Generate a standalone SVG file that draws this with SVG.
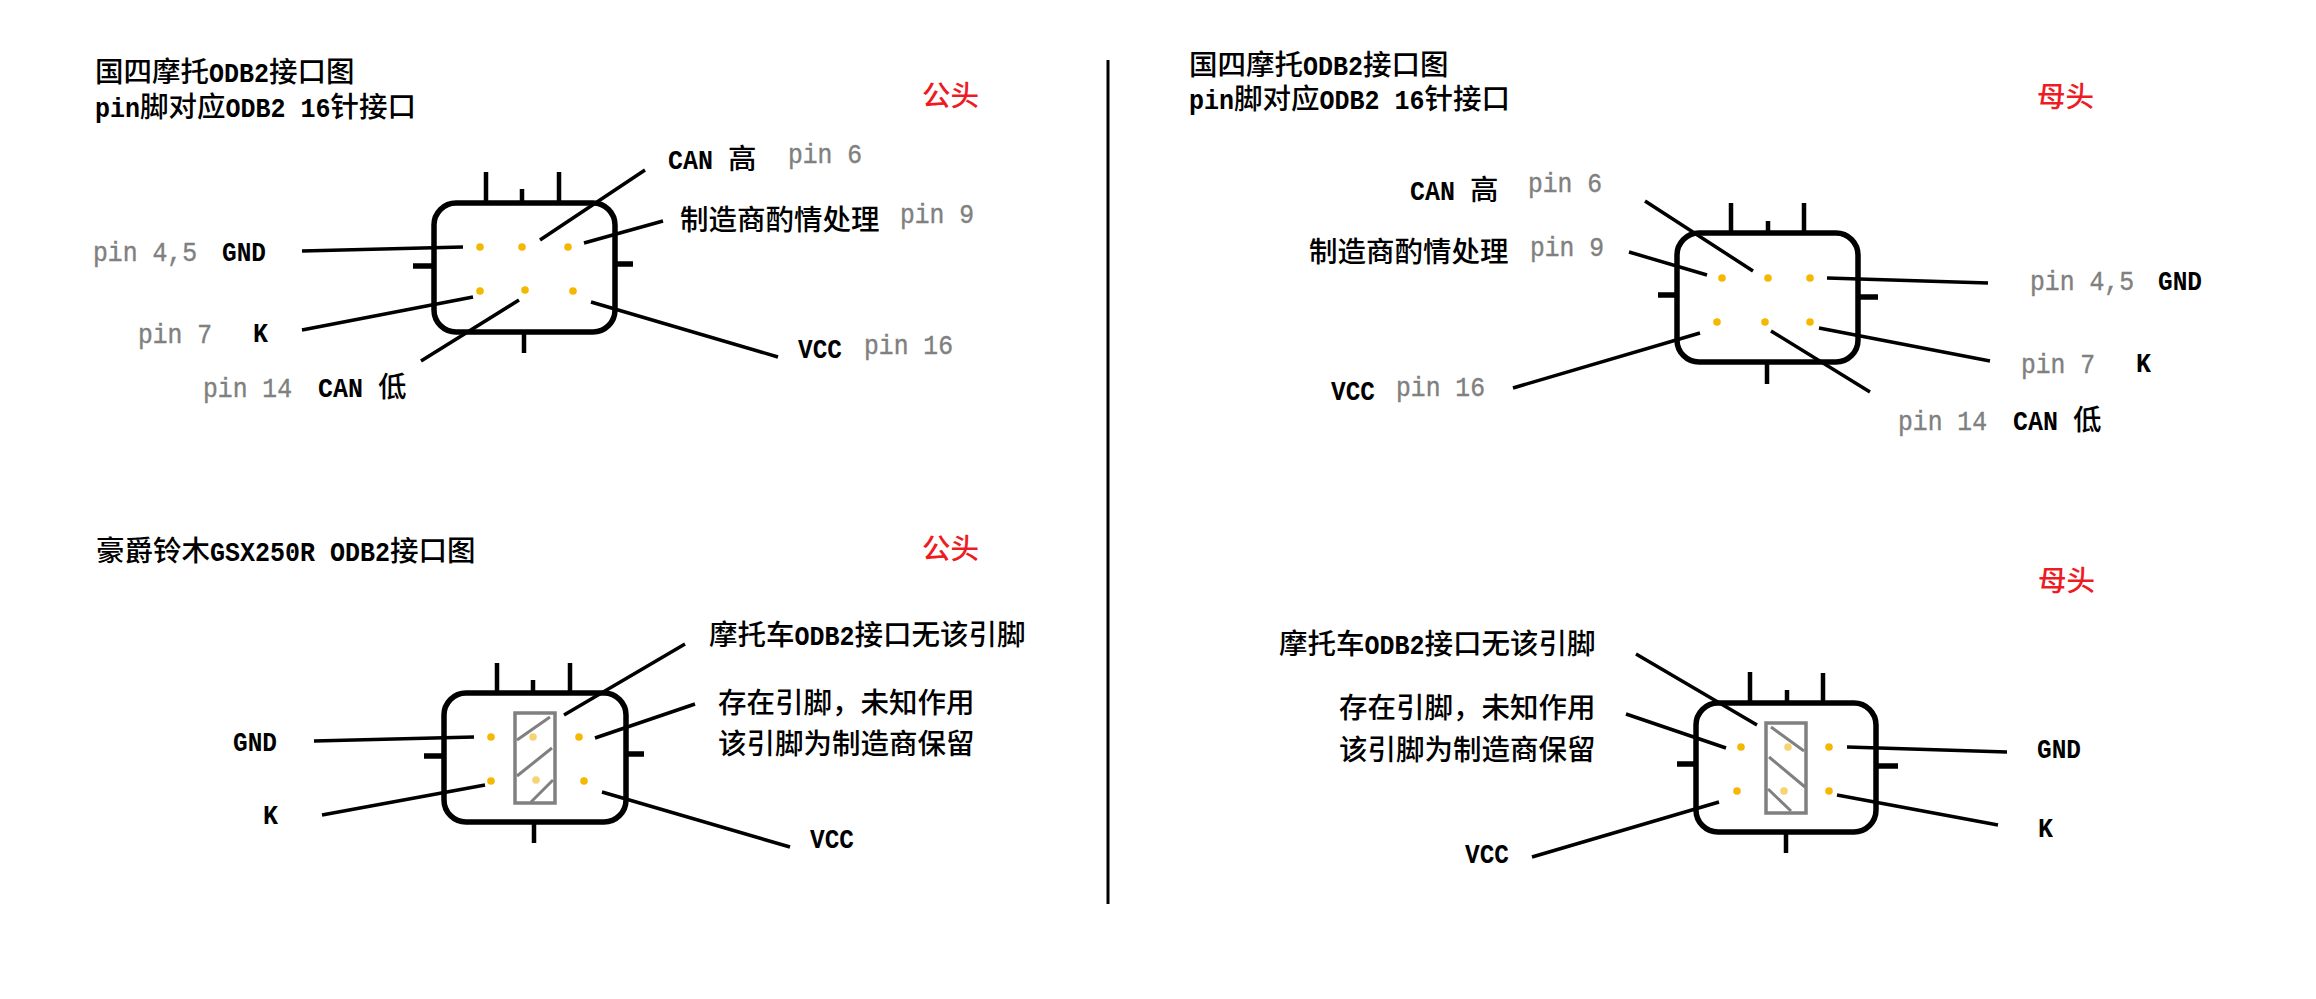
<svg xmlns="http://www.w3.org/2000/svg" width="2316" height="999" viewBox="0 0 2316 999">
<style>
text{font-family:"Noto Sans CJK SC","Liberation Sans",sans-serif;font-size:28.5px;fill:#000;font-weight:500}
.m{font-family:"Liberation Mono","Noto Sans CJK SC",monospace;font-size:27px;font-weight:700}
.p{font-family:"Liberation Mono",monospace;font-size:27px;fill:#808080;font-weight:400;stroke:#808080;stroke-width:.4}
.r{fill:#ed1c24}
.body{fill:#fff;stroke:#000;stroke-width:5.5}
.stub{stroke:#000;stroke-width:5.5;fill:none}
.thin{stroke:#000;stroke-width:4.5;fill:none}
.lead{stroke:#000;stroke-width:3.5;fill:none}
.d{fill:#f5b800}
.pale{fill:#f6d472}
.block{fill:none;stroke:#808080;stroke-width:3.5}
.hatch{fill:none;stroke:#808080;stroke-width:3}
</style>
<rect width="2316" height="999" fill="#fff"/>
<line x1="1108" y1="60" x2="1108" y2="904" stroke="#000" stroke-width="3"/>

<g id="conn-male-top">
<path class="thin" d="M486 172V203M522 189V203M559 172V203M524 332V353"/>
<path class="stub" d="M413 266H434M615 264H633"/>
<rect class="body" x="434" y="203" width="181" height="129" rx="22"/>
<circle class="d" cx="480" cy="247" r="3.8"/><circle class="d" cx="522" cy="247" r="3.8"/><circle class="d" cx="568" cy="247" r="3.8"/>
<circle class="d" cx="480" cy="291" r="3.8"/><circle class="d" cx="525" cy="290" r="3.8"/><circle class="d" cx="573" cy="291" r="3.8"/>
</g>
<g id="conn-male-bottom">
<path class="thin" d="M497 663V693M533 680V693M570 663V693M534 822V843"/>
<path class="stub" d="M424 756H444M626 754H644"/>
<rect class="body" x="444" y="693" width="182" height="129" rx="22"/>
<circle class="d" cx="491" cy="737" r="3.8"/><circle class="pale" cx="533" cy="737" r="3.8"/><circle class="d" cx="579" cy="737" r="3.8"/>
<circle class="d" cx="491" cy="781" r="3.8"/><circle class="pale" cx="536" cy="780" r="3.8"/><circle class="d" cx="584" cy="781" r="3.8"/>
<rect class="block" x="515" y="713" width="40" height="90"/>
<path class="hatch" d="M550 717L517 740M552 748L517 776M553 780L531 802"/>
</g>
<g id="conn-female-top">
<path class="thin" d="M1731 203V233M1768 221V233M1804 203V233M1767 362V384"/>
<path class="stub" d="M1658 295H1677M1858 297H1878"/>
<rect class="body" x="1677" y="233" width="181" height="129" rx="22"/>
<circle class="d" cx="1722" cy="278" r="3.8"/><circle class="d" cx="1768" cy="278" r="3.8"/><circle class="d" cx="1810" cy="278" r="3.8"/>
<circle class="d" cx="1717" cy="322" r="3.8"/><circle class="d" cx="1765" cy="322" r="3.8"/><circle class="d" cx="1810" cy="322" r="3.8"/>
</g>
<g id="conn-female-bottom">
<path class="thin" d="M1750 672V703M1787 690V703M1823 673V703M1786 832V853"/>
<path class="stub" d="M1677 764H1696M1876 766H1898"/>
<rect class="body" x="1696" y="703" width="180" height="129" rx="22"/>
<circle class="d" cx="1741" cy="747" r="3.8"/><circle class="pale" cx="1788" cy="747" r="3.8"/><circle class="d" cx="1829" cy="747" r="3.8"/>
<circle class="d" cx="1737" cy="791" r="3.8"/><circle class="pale" cx="1784" cy="791" r="3.8"/><circle class="d" cx="1829" cy="791" r="3.8"/>
<rect class="block" x="1766" y="723" width="40" height="90"/>
<path class="hatch" d="M1771 727L1804 751M1769 757L1805 787M1768 789L1791 811"/>
</g>

<g id="connectors">
<path class="lead" d="M645 170L540 240M663 221L584 243M302 251L463 247M302 330L473 297M519 300L421 361M591 302L778 357"/>
<path class="lead" d="M685 644L564 715M695 704L595 738M314 741L474 737M322 815L485 785M602 792L790 847"/>
<path class="lead" d="M1645 201L1753 271M1629 252L1707 275M1827 278L1988 283M1819 328L1990 361M1771 331L1870 392M1700 333L1513 388"/>
<path class="lead" d="M1636 654L1757 725M1626 714L1726 748M1847 747L2007 752M1837 795L1998 825M1719 802L1532 857"/>
</g>

<g id="labels-male-top">
<text x="95" y="82">国四摩托<tspan class="m" textLength="60" lengthAdjust="spacingAndGlyphs">ODB2</tspan>接口图</text>
<text x="95" y="117"><tspan class="m" textLength="45" lengthAdjust="spacingAndGlyphs">pin</tspan>脚对应<tspan class="m" textLength="105" lengthAdjust="spacingAndGlyphs">ODB2 16</tspan>针接口</text>
<text class="r" x="922" y="106">公头</text>
<text x="668" y="169"><tspan class="m" textLength="60" lengthAdjust="spacingAndGlyphs">CAN </tspan>高</text>
<text class="p" x="788" y="163" textLength="74" lengthAdjust="spacingAndGlyphs">pin 6</text>
<text x="680" y="230">制造商酌情处理</text>
<text class="p" x="900" y="223" textLength="74" lengthAdjust="spacingAndGlyphs">pin 9</text>
<text class="p" x="93" y="261" textLength="104" lengthAdjust="spacingAndGlyphs">pin 4,5</text>
<text class="m" x="222" y="261" textLength="44" lengthAdjust="spacingAndGlyphs">GND</text>
<text class="p" x="138" y="343" textLength="74" lengthAdjust="spacingAndGlyphs">pin 7</text>
<text class="m" x="253" y="342" textLength="15" lengthAdjust="spacingAndGlyphs">K</text>
<text class="p" x="203" y="397" textLength="89" lengthAdjust="spacingAndGlyphs">pin 14</text>
<text x="318" y="397"><tspan class="m" textLength="60" lengthAdjust="spacingAndGlyphs">CAN </tspan>低</text>
<text class="m" x="798" y="358" textLength="44" lengthAdjust="spacingAndGlyphs">VCC</text>
<text class="p" x="864" y="354" textLength="89" lengthAdjust="spacingAndGlyphs">pin 16</text>
</g>
<g id="labels-male-bottom">
<text x="96" y="561">豪爵铃木<tspan class="m" textLength="180" lengthAdjust="spacingAndGlyphs">GSX250R ODB2</tspan>接口图</text>
<text class="r" x="922" y="559">公头</text>
<text x="709" y="645">摩托车<tspan class="m" textLength="60" lengthAdjust="spacingAndGlyphs">ODB2</tspan>接口无该引脚</text>
<text x="718" y="713">存在引脚，未知作用</text>
<text x="718" y="754">该引脚为制造商保留</text>
<text class="m" x="233" y="751" textLength="44" lengthAdjust="spacingAndGlyphs">GND</text>
<text class="m" x="263" y="824" textLength="15" lengthAdjust="spacingAndGlyphs">K</text>
<text class="m" x="810" y="848" textLength="44" lengthAdjust="spacingAndGlyphs">VCC</text>
</g>
<g id="labels-female-top">
<text x="1189" y="75">国四摩托<tspan class="m" textLength="60" lengthAdjust="spacingAndGlyphs">ODB2</tspan>接口图</text>
<text x="1189" y="109"><tspan class="m" textLength="45" lengthAdjust="spacingAndGlyphs">pin</tspan>脚对应<tspan class="m" textLength="105" lengthAdjust="spacingAndGlyphs">ODB2 16</tspan>针接口</text>
<text class="r" x="2037" y="107">母头</text>
<text x="1410" y="200"><tspan class="m" textLength="60" lengthAdjust="spacingAndGlyphs">CAN </tspan>高</text>
<text class="p" x="1528" y="192" textLength="74" lengthAdjust="spacingAndGlyphs">pin 6</text>
<text x="1309" y="262">制造商酌情处理</text>
<text class="p" x="1530" y="256" textLength="74" lengthAdjust="spacingAndGlyphs">pin 9</text>
<text class="p" x="2030" y="290" textLength="104" lengthAdjust="spacingAndGlyphs">pin 4,5</text>
<text class="m" x="2158" y="290" textLength="44" lengthAdjust="spacingAndGlyphs">GND</text>
<text class="p" x="2021" y="373" textLength="74" lengthAdjust="spacingAndGlyphs">pin 7</text>
<text class="m" x="2136" y="372" textLength="15" lengthAdjust="spacingAndGlyphs">K</text>
<text class="p" x="1898" y="430" textLength="89" lengthAdjust="spacingAndGlyphs">pin 14</text>
<text x="2013" y="430"><tspan class="m" textLength="60" lengthAdjust="spacingAndGlyphs">CAN </tspan>低</text>
<text class="m" x="1331" y="400" textLength="44" lengthAdjust="spacingAndGlyphs">VCC</text>
<text class="p" x="1396" y="396" textLength="89" lengthAdjust="spacingAndGlyphs">pin 16</text>
</g>
<g id="labels-female-bottom">
<text class="r" x="2038" y="591">母头</text>
<text x="1279" y="654">摩托车<tspan class="m" textLength="60" lengthAdjust="spacingAndGlyphs">ODB2</tspan>接口无该引脚</text>
<text x="1339" y="718">存在引脚，未知作用</text>
<text x="1339" y="760">该引脚为制造商保留</text>
<text class="m" x="1465" y="863" textLength="44" lengthAdjust="spacingAndGlyphs">VCC</text>
<text class="m" x="2037" y="758" textLength="44" lengthAdjust="spacingAndGlyphs">GND</text>
<text class="m" x="2038" y="837" textLength="15" lengthAdjust="spacingAndGlyphs">K</text>
</g>
</svg>
